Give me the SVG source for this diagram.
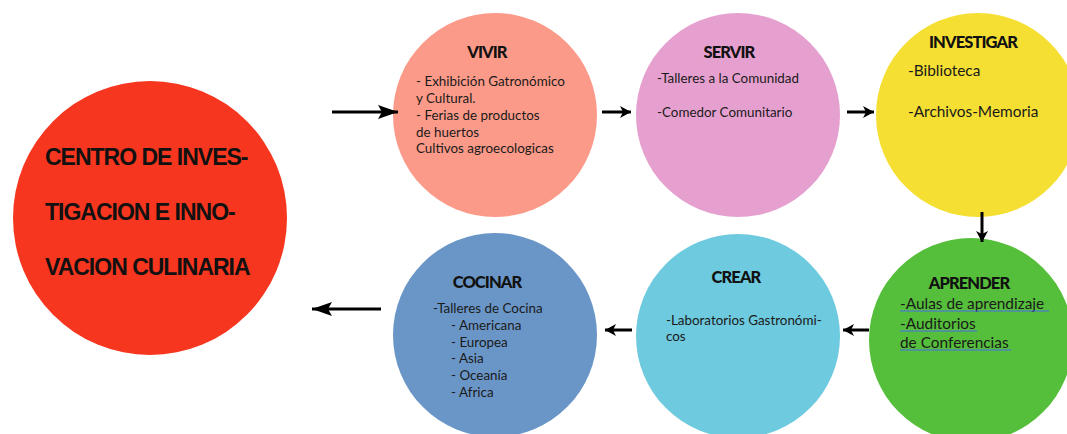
<svg xmlns="http://www.w3.org/2000/svg" width="1067" height="434" viewBox="0 0 1067 434">
<style>
.big{font-family:"Liberation Sans",Arial,sans-serif;font-size:23px;font-weight:bold;letter-spacing:-1px;fill:#111}
.ttl{font-family:Lato,"Liberation Sans",sans-serif;font-size:16.5px;font-weight:900;letter-spacing:-0.9px;fill:#111;text-anchor:middle}
.bd{font-family:Lato,"Liberation Sans",sans-serif;font-size:13.4px;fill:#1a1a1a}
.bd2{font-family:Lato,"Liberation Sans",sans-serif;font-size:15.4px;fill:#1a1a1a}
.ul{stroke:#4a6cf0;stroke-width:1.2}
.ln{stroke:#000;stroke-width:3;fill:none}
</style>
<defs>
<marker id="hb" markerUnits="userSpaceOnUse" markerWidth="22" markerHeight="16" refX="20" refY="8" orient="auto">
<path d="M0,1 L20,8 L0,15 L4,8 z" fill="#000"/>
</marker>
<marker id="hs" markerUnits="userSpaceOnUse" markerWidth="14" markerHeight="14" refX="12" refY="7" orient="auto">
<path d="M1,1 L12,7 L1,13 L4,7 z" fill="#000"/>
</marker>
</defs>
<rect width="1067" height="434" fill="#fff"/>
<g id="centro">
<circle cx="150" cy="218" r="137" fill="#f7361f"/>
<text class="big" x="45" y="165">CENTRO DE INVES-</text>
<text class="big" x="45" y="220">TIGACION E INNO-</text>
<text class="big" x="45" y="275">VACION CULINARIA</text>
</g>
<g id="vivir">
<circle cx="495" cy="115" r="102" fill="#fc9a89"/>
<text class="ttl" x="487" y="58">VIVIR</text>
<text class="bd" x="416" y="86">- Exhibición Gatronómico</text>
<text class="bd" x="416" y="103">y Cultural.</text>
<text class="bd" x="416" y="120">- Ferias de productos</text>
<text class="bd" x="416" y="137">de huertos</text>
<text class="bd" x="416" y="153">Cultivos agroecologicas</text>
</g>
<g id="servir">
<circle cx="738" cy="115" r="102" fill="#e6a0cf"/>
<text class="ttl" x="729" y="58">SERVIR</text>
<text class="bd" x="657" y="83">-Talleres a la Comunidad</text>
<text class="bd" x="657" y="117">-Comedor Comunitario</text>
</g>
<g id="investigar">
<circle cx="978" cy="115" r="102" fill="#f5df33"/>
<text class="ttl" x="973" y="48">INVESTIGAR</text>
<text class="bd2" x="908" y="76">-Biblioteca</text>
<text class="bd2" x="908" y="117">-Archivos-Memoria</text>
</g>
<g id="aprender">
<circle cx="971" cy="340" r="102" fill="#55be3a"/>
<text class="ttl" x="969" y="289">APRENDER</text>
<text class="bd2" x="900" y="309">-Aulas de aprendizaje</text>
<line class="ul" x1="900" y1="311" x2="1049" y2="311"/>
<text class="bd2" x="900" y="329">-Auditorios</text>
<line class="ul" x1="900" y1="331" x2="977" y2="331"/>
<text class="bd2" x="900" y="348">de Conferencias</text>
<line class="ul" x1="900" y1="350" x2="1011" y2="350"/>
</g>
<g id="crear">
<circle cx="738" cy="336" r="102" fill="#6ecade"/>
<text class="ttl" x="736" y="283">CREAR</text>
<text class="bd" x="666" y="325">-Laboratorios Gastronómi-</text>
<text class="bd" x="666" y="341">cos</text>
</g>
<g id="cocinar">
<circle cx="495" cy="335" r="102" fill="#6a96c7"/>
<text class="ttl" x="487" y="288">COCINAR</text>
<text class="bd" x="433" y="313">-Talleres de Cocina</text>
<text class="bd" x="451" y="330">- Americana</text>
<text class="bd" x="451" y="347">- Europea</text>
<text class="bd" x="451" y="363">- Asia</text>
<text class="bd" x="451" y="380">- Oceanía</text>
<text class="bd" x="451" y="397">- Africa</text>
</g>
<g id="connectors">
<line class="ln" x1="332" y1="112" x2="398" y2="112" marker-end="url(#hb)"/>
<line class="ln" x1="602" y1="112" x2="631" y2="112" marker-end="url(#hs)"/>
<line class="ln" x1="847" y1="112" x2="874" y2="112" marker-end="url(#hs)"/>
<line class="ln" x1="982" y1="212" x2="982" y2="242" marker-end="url(#hs)"/>
<line class="ln" x1="869" y1="330" x2="843" y2="330" marker-end="url(#hs)"/>
<line class="ln" x1="632" y1="330" x2="605" y2="330" marker-end="url(#hs)"/>
<line class="ln" x1="381" y1="309" x2="312" y2="309" marker-end="url(#hb)"/>
</g>
</svg>
